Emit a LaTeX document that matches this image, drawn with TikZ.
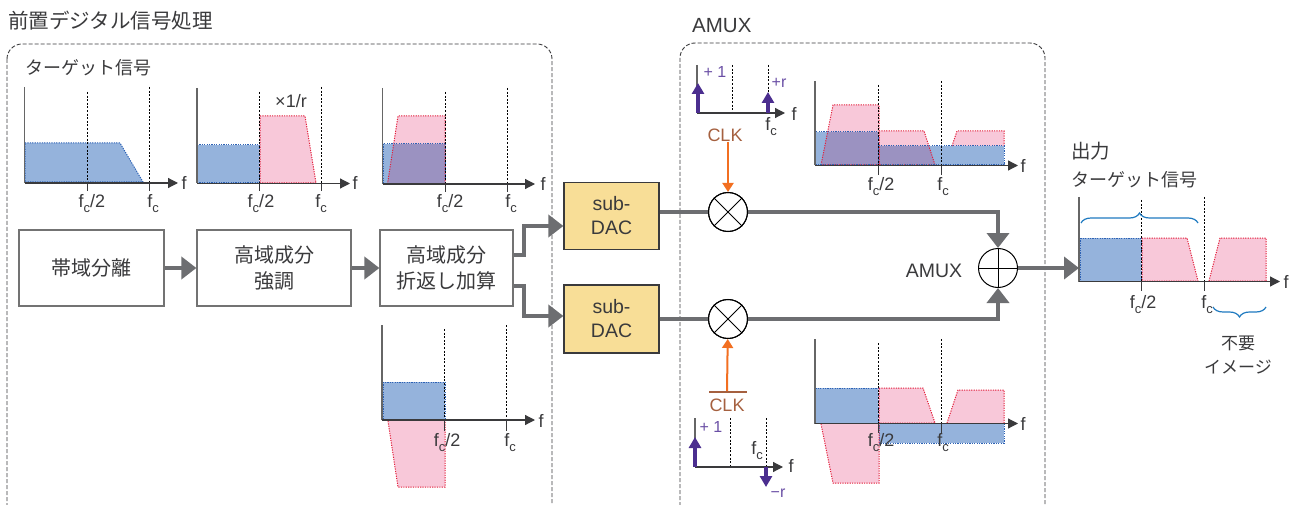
\documentclass[tikz,border=0pt]{standalone}
\usepackage{fontspec}
\setmainfont{Liberation Sans}
\newfontfamily\jp{Noto Sans CJK JP}
\usepackage{tikz}
\usetikzlibrary{arrows.meta,decorations.pathreplacing,shapes.misc}
\definecolor{ink}{HTML}{3A3A3C}
\definecolor{flowgray}{HTML}{6D6E71}
\definecolor{bluefill}{HTML}{95B3DC}
\definecolor{bluedot}{HTML}{2D62B5}
\definecolor{pinkfill}{HTML}{F8C8D9}
\definecolor{pinkdot}{HTML}{E2203C}
\definecolor{mixfill}{HTML}{9B92C1}
\definecolor{dacfill}{HTML}{F8DE97}
\definecolor{clkbrown}{HTML}{A5603F}
\definecolor{clkorange}{HTML}{F26F21}
\definecolor{tone}{HTML}{4B2E8F}
\definecolor{tonetext}{HTML}{6A4FA5}
\definecolor{bracecol}{HTML}{1F7AC0}
\tikzset{
  font={\fontsize{18pt}{22}\selectfont},
  every node/.append style={text=ink, inner sep=0pt}}
\newcommand{\fc}{f\raisebox{-5pt}{\fontsize{13pt}{13}\selectfont c}}
\newcommand{\plotaxes}[4]{
  \draw[yaxis] (#1,#2) -- (#1,#3);
  \draw[xaxis] (#1,#3) -- (#4,#3);
}
\newcommand{\cross}[1]{
  \draw[thin, line width=1pt] (#1.north west) -- (#1.south east);
  \draw[thin, line width=1pt] (#1.north east) -- (#1.south west);
}

\begin{document}
\begin{tikzpicture}[x=1pt, y=-1pt,
  block/.style = {draw=gray!90!black, line width=1.2pt, fill=white, minimum height=76pt, align=center, font={\fontsize{20pt}{26}\selectfont\jp}},
  dac/.style = {draw=ink, line width=1.2pt, fill=dacfill, minimum width=95pt, align=center, font={\fontsize{19.5pt}{24}\selectfont}},
  mixer/.style = {draw=black, line width=1pt, circle, fill=white, minimum size=39pt},
  flow/.style = {draw=flowgray, line width=4.5pt, -{Triangle[length=15pt,width=22pt]}},
  clkarrow/.style = {draw=clkorange, line width=2pt, -{Triangle[length=9pt,width=11pt]}},
  tonearrow/.style = {draw=tone, line width=4pt, -{Triangle[length=11pt,width=12pt]}},
  frame/.style = {draw=ink, line width=0.9pt, dash pattern=on 4pt off 2pt, rounded corners=15pt},
  yaxis/.style = {draw=gray!80!black, line width=1.2pt},
  xaxis/.style = {draw=ink, line width=1.2pt, -{Triangle[length=10pt,width=10pt]}},
  grid/.style = {draw=black, line width=0.8pt, dash pattern=on 2pt off 1.6pt},
  tick/.style = {draw=ink, line width=0.9pt},
  blue/.style = {fill=bluefill, draw=bluedot, line width=1pt, dash pattern=on 1.2pt off 1.2pt},
  pink/.style = {fill=pinkfill, draw=pinkdot, line width=1pt, dash pattern=on 1.2pt off 1.2pt},
  overlap/.style = {fill=mixfill},
  bracket/.style = {draw=bracecol, line width=1.2pt, decorate},
  title/.style = {font={\fontsize{20.5pt}{24}\selectfont\jp}},
  sub/.style = {font={\fontsize{18pt}{22}\selectfont\jp}},
  tonelabel/.style = {text=tonetext, font={\fontsize{16pt}{20}\selectfont}}]
\useasboundingbox (0,0) rectangle (1295,505);

\begin{scope}
\clip (0,0) rectangle (1295,505);
\draw[frame] (7,44) rectangle (552,525);
\draw[frame] (680,43) rectangle (1045,525);
\end{scope}

\node[title, anchor=west] (pre) at (8,21) {前置デジタル信号処理};
\node[sub, anchor=west] (target1) at (25,68) {ターゲット信号};
\node[anchor=west, font={\fontsize{20.5pt}{24}\selectfont}] (amuxtitle) at (692,26) {AMUX};
\node[title, anchor=west, font={\fontsize{19.5pt}{24}\selectfont\jp}] (out) at (1071,151) {出力};
\node[sub, anchor=west] (target2) at (1071,180) {ターゲット信号};

\draw[blue] (25,143) -- (120,143) -- (143,182) -- (25,182) -- cycle;
\draw[grid] (87,92) -- (87,183);
\draw[grid] (149,87) -- (149,183);
\draw[tick] (87,183) -- (87,191);
\draw[tick] (149,183) -- (149,191);
\plotaxes{24.5}{87}{183}{178}
\node (f1) at (184,183) {f};
\node (h1) at (92,204) {\fc/2};
\node (c1) at (153,204) {\fc};

\draw[blue] (197,145) -- (259,145) -- (259,183) -- (197,183) -- cycle;
\draw[pink] (260,116) -- (305,116) -- (316,183) -- (260,183) -- cycle;
\draw[grid] (259,92) -- (259,183);
\draw[grid] (321.5,87) -- (321.5,183);
\draw[tick] (259,183) -- (259,191);
\draw[tick] (321.5,183) -- (321.5,191);
\plotaxes{197}{88}{183.5}{350}
\node (f2) at (355,183) {f};
\node (h2) at (261,204) {\fc/2};
\node (c2) at (321,204) {\fc};
\node (gain) at (291,101) {×1/r};

\fill[pinkfill] (387.5,184) -- (398,116) -- (445,116) -- (445,184) -- cycle;
\fill[bluefill] (383,144) rectangle (445,184);
\fill[overlap] (387.5,184) -- (393.7,144) -- (445,144) -- (445,184) -- cycle;
\draw[pink, fill=none] (387.5,184) -- (398,116) -- (445,116) -- (445,184) -- cycle;
\draw[blue, fill=none] (383,144) rectangle (445,184);
\draw[grid] (445,92) -- (445,184);
\draw[grid] (507,88) -- (507,184);
\draw[tick] (445,184) -- (445,192);
\draw[tick] (507,184) -- (507,192);
\plotaxes{382.5}{88}{184}{535}
\node (f3) at (543,184) {f};
\node (h3) at (450,204) {\fc/2};
\node (c3) at (511,204) {\fc};

\node[block, minimum width=145pt] (b1) at (91.5,268) {帯域分離};
\node[block, minimum width=154pt] (b2) at (274,268) {高域成分\\強調};
\node[block, minimum width=133pt] (b3) at (446.5,268) {高域成分\\折返し加算};
\node[dac, minimum height=67pt] (dac1) at (611.5,216) {sub-\\DAC};
\node[dac, minimum height=68pt] (dac2) at (611.5,319) {sub-\\DAC};
\node[mixer] (mix1) at (728,212) {};
\node[mixer] (mix2) at (728,319) {};
\node[mixer] (sum) at (998,268) {};
\cross{mix1}
\cross{mix2}
\draw[line width=1pt] (sum.north) -- (sum.south);
\draw[line width=1pt] (sum.west) -- (sum.east);
\node (amuxlabel) at (934,271) {\fontsize{19.5pt}{24}\selectfont AMUX};

\draw[flow] (b1) -- (b2);
\draw[flow] (b2) -- (b3);
\draw[flow] ([yshift=13pt]b3.east) -| (524,226) -- ([yshift=-10pt]dac1.west);
\draw[flow] ([yshift=-18pt]b3.east) -| (524,316) -- ([yshift=3pt]dac2.west);
\draw[draw=flowgray, line width=4.5pt] (dac1.east |- mix1) -- (mix1);
\draw[draw=flowgray, line width=4.5pt] (dac2.east |- mix2) -- (mix2);
\draw[flow] (mix1) -| (sum.north);
\draw[flow] (mix2) -| (sum.south);
\draw[flow] (sum) -- (1079,268);
\node[mixer, fill=none] at (728,212) {};
\node[mixer, fill=none] at (728,319) {};

\node (clk1) at (725,135) {\textcolor{clkbrown}{CLK}};
\node (clk2) at (727,405) {\textcolor{clkbrown}{CLK}};
\draw[clkbrown, line width=1.1pt] (709,392) -- (747,392);
\draw[clkarrow] (clk1.south -| mix1) -- (mix1);
\draw[clkarrow] (727,391) -- (mix2);

\draw[grid] (732.5,65) -- (732.5,113);
\draw[grid] (768,65) -- (768,92);
\draw[yaxis] (697,65) -- (697,113);
\draw[xaxis] (697,113) -- (785,113);
\draw[tonearrow] (698,113) -- (698,83);
\draw[tonearrow] (768,113) -- (768,92);
\node (f4) at (794,114) {f};
\node[tonelabel] (one1) at (715,72) {+ 1};
\node[tonelabel] (plusr) at (779,83) {+r};
\node (c4) at (771,127) {\fc};

\draw[grid] (730,418) -- (730,467);
\draw[grid] (766,418) -- (766,467);
\draw[yaxis] (695,418) -- (695,467);
\draw[xaxis] (695,467) -- (783,467);
\draw[tonearrow] (695,467) -- (695,437);
\draw[tonearrow] (766,467) -- (766,487);
\node (f5) at (791,466) {f};
\node[tonelabel] (one2) at (711,427) {+ 1};
\node[tonelabel] (minusr) at (778,493) {−r};
\node (c5) at (757,451) {\fc};

\fill[pinkfill] (821,165) -- (833,105) -- (879,105) -- (879,165) -- cycle;
\fill[pinkfill] (879,131) -- (924,131) -- (935,165) -- (879,165) -- cycle;
\fill[pinkfill] (952,146) -- (957,131) -- (1004,131) -- (1004,146) -- cycle;
\fill[bluefill] (815,132) rectangle (878,165);
\fill[bluefill] (878,146) rectangle (1004,165);
\fill[overlap] (821,165) -- (827.6,132) -- (878,132) -- (878,165) -- cycle;
\fill[overlap] (879,146) -- (929,146) -- (935,165) -- (879,165) -- cycle;
\draw[pink, fill=none] (821,165) -- (833,105) -- (879,105) -- (879,165) -- cycle;
\draw[pink, fill=none] (879,131) -- (924,131) -- (935,165) -- (879,165) -- cycle;
\draw[pink, fill=none] (952,146) -- (957,131) -- (1004,131) -- (1004,146);
\draw[blue, fill=none] (815,132) rectangle (878,165);
\draw[blue, fill=none] (878,146) rectangle (1004,165);
\draw[grid] (878,85) -- (878,165);
\draw[grid] (941,81) -- (941,165);
\draw[tick] (878,165) -- (878,175);
\draw[tick] (941,165) -- (941,175);
\plotaxes{815}{81}{165.5}{1018}
\node (f6) at (1023,166) {f};
\node (h6) at (881,187) {\fc/2};
\node (c6) at (943,187) {\fc};

\draw[blue] (815,388) rectangle (878,423);
\draw[blue] (879,423) rectangle (1004,443);
\draw[pink] (821,424) -- (833,483) -- (879,483) -- (879,424);
\draw[pink] (879,388) -- (923,388) -- (935,423) -- (879,423) -- cycle;
\draw[pink] (947,423) -- (958,390) -- (1004,390) -- (1004,423);
\draw[grid] (878,343) -- (878,423.5);
\draw[grid] (941,339) -- (941,423.5);
\draw[tick] (878,423.5) -- (878,433);
\draw[tick] (941,423.5) -- (941,433);
\plotaxes{815}{339}{423.5}{1018}
\node (f7) at (1023,424) {f};
\node (h7) at (881,443) {\fc/2};
\node (c7) at (943,443) {\fc};

\draw[blue] (383,382) rectangle (445,420);
\draw[pink] (388,421) -- (398,487) -- (445,487) -- (445,421);
\draw[grid] (444.5,329) -- (444.5,420);
\draw[grid] (506,325) -- (506,420);
\draw[tick] (444.5,420) -- (444.5,431);
\draw[tick] (506,420) -- (506,431);
\plotaxes{382}{325}{420}{535}
\node (f8) at (541,421) {f};
\node (h8) at (447,443) {\fc/2};
\node (c8) at (510,443) {\fc};

\draw[blue] (1080,238) rectangle (1141,281);
\draw[pink] (1142,238) -- (1187,238) -- (1198,281) -- (1142,281) -- cycle;
\draw[pink] (1209,281) -- (1220,238) -- (1266,238) -- (1266,281) -- cycle;
\draw[grid] (1141.5,200) -- (1141.5,281.5);
\draw[grid] (1204,197) -- (1204,281.5);
\draw[tick] (1141.5,281.5) -- (1141.5,291);
\draw[tick] (1204,281.5) -- (1204,291);
\plotaxes{1079}{197}{281.5}{1280}
\node (f9) at (1286,282) {f};
\node (h9) at (1143,305) {\fc/2};
\node (c9) at (1207,305) {\fc};
\draw[bracket, decoration={brace, amplitude=10pt, aspect=0.5}] (1081,223) -- (1198,223);
\draw[bracket, decoration={brace, amplitude=10pt, mirror}] (1213,307) -- (1266,307);
\node[font={\fontsize{17pt}{24}\selectfont\jp}, align=center] (image) at (1238,355) {不要\\イメージ};
\end{tikzpicture}
\end{document}
